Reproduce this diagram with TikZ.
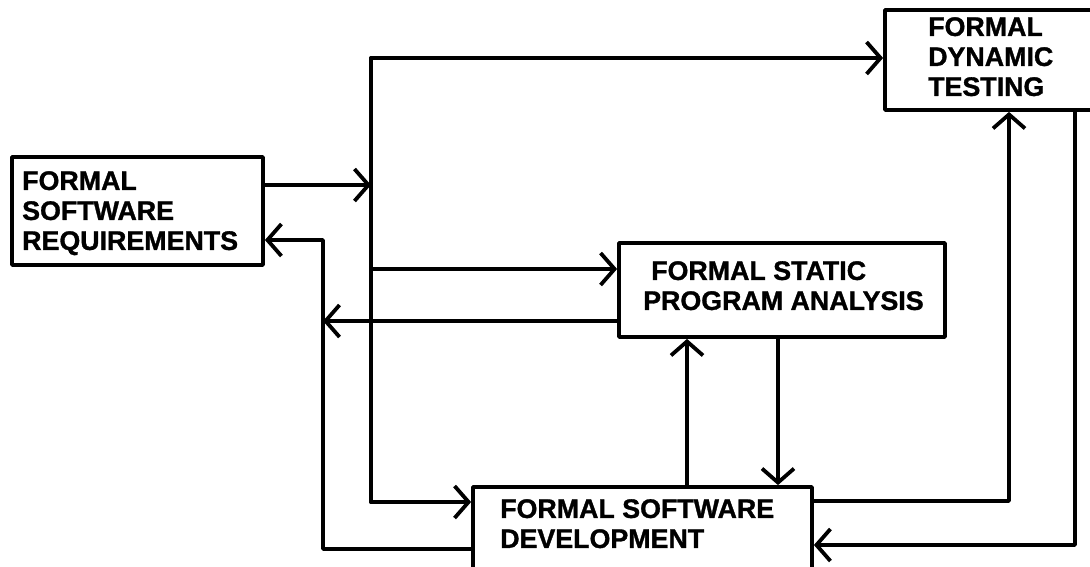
\documentclass[tikz,border=0pt]{standalone}
\usepackage{fontspec}
\setmainfont{Liberation Sans}
\newfontfamily\heavyfont{Liberation Sans Bold}[FakeBold=1.2]
\usetikzlibrary{arrows.meta}
\begin{document}
\begin{tikzpicture}[x=1pt,y=-1pt,
  box/.style={draw, line width=3.8pt, rectangle, inner sep=0pt, line join=round},
  txt/.style={inner sep=0pt, anchor=north west, align=left, font=\fontsize{26.8}{30}\selectfont\heavyfont},
  link/.style={line width=3.8pt, line join=round, line cap=round},
  arr/.style={link, -{Straight Barb[length=14pt,width=32pt]}}]
\useasboundingbox (0,0) rectangle (1090,566);
\clip (0,0) rectangle (1090,566);
% boxes
\node[box, minimum width=251pt, minimum height=108pt] (req) at (137.5,211) {};
\node[box, minimum width=215pt, minimum height=100pt] (dyn) at (992.5,60) {};
\node[box, minimum width=326pt, minimum height=94pt] (sta) at (782,290) {};
\node[box, minimum width=339pt, minimum height=83pt] (dev) at (642.5,528.5) {};
% texts
\node[txt] (reqt) at (22,171) {FORMAL\\SOFTWARE\\REQUIREMENTS};
\node[txt] (dynt) at (928,17) {FORMAL\\DYNAMIC\\TESTING};
\node[txt] (stat) at (643,261) {\hspace*{8pt}FORMAL STATIC\\PROGRAM ANALYSIS};
\node[txt] (devt) at (500,499) {FORMAL SOFTWARE\\DEVELOPMENT};
% junction points
\coordinate (bR) at (371,185);
\coordinate (bTop) at (371,58);
\coordinate (bS) at (371,269);
\coordinate (bBot) at (371,502);
\coordinate (rT) at (323,240);
\coordinate (rS) at (323,321);
\coordinate (rB) at (323,549);
\coordinate (uX) at (687,0);
\coordinate (dX) at (778,0);
\coordinate (o1) at (1009,501);
\coordinate (o2) at (1075,545);
% connectors
\draw[arr] (req.east |- bR) -- (bR);
\draw[link] (bTop) -- (bBot);
\draw[arr] (bTop) -- (dyn.west |- bTop);
\draw[arr] (bS) -- (sta.west |- bS);
\draw[arr] (bBot) -- (dev.west |- bBot);
\draw[arr] (dev.west |- rB) -- (rB) -- (rT) -- (req.east |- rT);
\draw[arr] (sta.west |- rS) -- (rS);
\draw[arr] (dev.north -| uX) -- (sta.south -| uX);
\draw[arr] (sta.south -| dX) -- (dev.north -| dX);
\draw[arr] (dev.east |- o1) -- (o1) -- (dyn.south -| o1);
\draw[arr] (dyn.south -| o2) -- (o2) -- (dev.east |- o2);
\end{tikzpicture}
\end{document}
